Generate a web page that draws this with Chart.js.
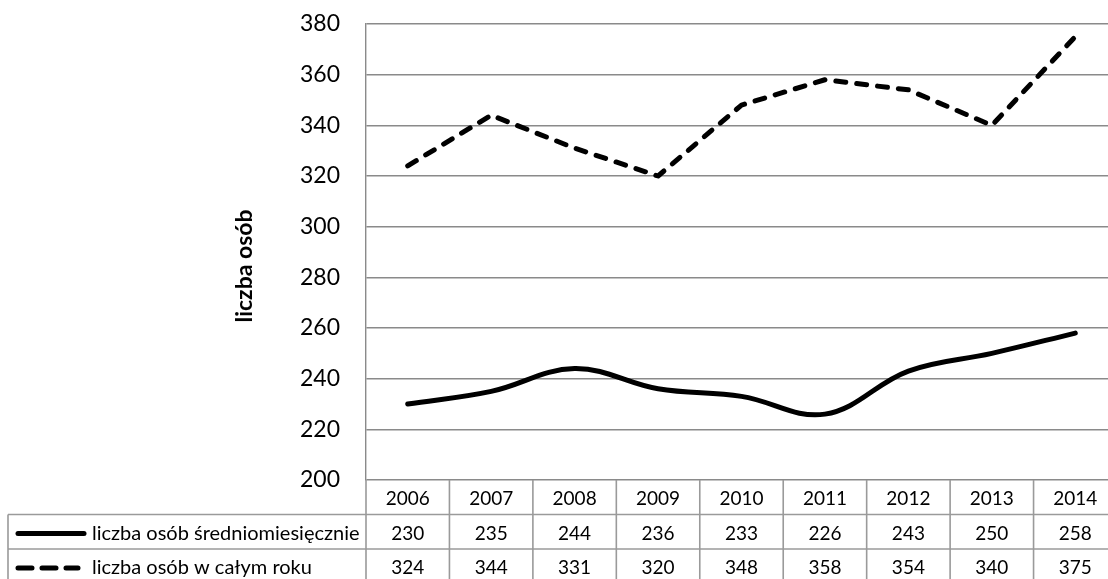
<!DOCTYPE html>
<html>
<head>
<meta charset="utf-8">
<script src="https://cdn.jsdelivr.net/npm/chart.js@4.4.0/dist/chart.umd.min.js"></script>
<style>
  html, body { margin: 0; padding: 0; background: #fff; overflow: hidden; }
  #wrap { width: 1117px; height: 579px; position: relative; }
</style>
</head>
<body>
<div id="wrap"><canvas id="c"></canvas></div>
<script>
const years = ['2006', '2007', '2008', '2009', '2010', '2011', '2012', '2013', '2014'];
const monthlyAvg = [230, 235, 244, 236, 233, 226, 243, 250, 258];
const wholeYear = [324, 344, 331, 320, 348, 358, 354, 340, 375];
const seriesNames = ['liczba osób średniomiesięcznie', 'liczba osób w całym roku'];
const yAxisTitle = 'liczba osób';
const yMin = 200, yMax = 380, yStep = 20;

const FONT = "Lato, 'Open Sans', sans-serif";
const GRID = '#8a8a8a';
const TABLE = '#9a9a9a';

const tablePlugin = {
  id: 'dataTable',
  afterDraw(chart) {
    const ctx = chart.ctx;
    const x = chart.scales.x;
    const area = chart.chartArea;
    const colW = x.getPixelForValue(1) - x.getPixelForValue(0);
    const top = area.bottom;
    const rowH = 34.5;
    const r1 = top + rowH, r2 = top + 2 * rowH, r3 = top + 3 * rowH + 2;
    const tableLeft = 8;
    ctx.save();
    ctx.strokeStyle = TABLE;
    ctx.lineWidth = 1.6;
    ctx.beginPath();
    ctx.moveTo(tableLeft, r1); ctx.lineTo(area.right, r1);
    ctx.moveTo(tableLeft, r2); ctx.lineTo(area.right, r2);
    ctx.moveTo(tableLeft, r1); ctx.lineTo(tableLeft, r3);
    for (let i = 0; i <= years.length; i++) {
      const px = x.getPixelForValue(0) - colW / 2 + i * colW;
      ctx.moveTo(px, top); ctx.lineTo(px, r3);
    }
    ctx.stroke();

    ctx.fillStyle = '#000';
    ctx.font = '19px ' + FONT;
    ctx.textAlign = 'center';
    ctx.textBaseline = 'middle';
    const rows = [years, monthlyAvg, wholeYear];
    const ys = [top + 19, r1 + 19, r2 + 19];
    rows.forEach((row, ri) => {
      row.forEach((v, i) => {
        ctx.fillText(String(v), x.getPixelForValue(i), ys[ri]);
      });
    });

    ctx.strokeStyle = '#000';
    ctx.lineWidth = 5;
    ctx.lineCap = 'round';
    ctx.beginPath();
    ctx.moveTo(18, ys[1]); ctx.lineTo(84, ys[1]);
    ctx.stroke();
    ctx.setLineDash([14, 10]);
    ctx.beginPath();
    ctx.moveTo(18, ys[2]); ctx.lineTo(78, ys[2]);
    ctx.stroke();
    ctx.setLineDash([]);
    ctx.font = '20px ' + FONT;
    ctx.textAlign = 'left';
    ctx.fillText(seriesNames[0], 92, ys[1]);
    ctx.fillText(seriesNames[1], 92, ys[2]);

    ctx.font = 'bold 23px ' + FONT;
    ctx.translate(245, 266);
    ctx.rotate(-Math.PI / 2);
    ctx.textAlign = 'center';
    ctx.fillText(yAxisTitle, 0, 0);
    ctx.restore();
  }
};

new Chart(document.getElementById('c'), {
  type: 'line',
  data: {
    labels: years,
    datasets: [
      {
        label: seriesNames[0],
        data: monthlyAvg,
        borderColor: '#000',
        borderWidth: 5,
        tension: 0.38,
        pointRadius: 0,
        borderCapStyle: 'round',
        borderJoinStyle: 'round',
        fill: false
      },
      {
        label: seriesNames[1],
        data: wholeYear,
        borderColor: '#000',
        borderWidth: 5,
        tension: 0,
        pointRadius: 0,
        borderDash: [10, 11],
        borderCapStyle: 'round',
        borderJoinStyle: 'round',
        fill: false
      }
    ]
  },
  options: {
    responsive: true,
    maintainAspectRatio: false,
    animation: false,
    layout: { autoPadding: false, padding: { top: 24, bottom: 99, left: 0, right: 0 } },
    plugins: { legend: { display: false }, tooltip: { enabled: false }, title: { display: false } },
    scales: {
      x: { display: false, offset: true },
      y: {
        min: yMin, max: yMax,
        ticks: { stepSize: yStep, color: '#000', font: { family: FONT, size: 23 }, padding: 26 },
        grid: { color: GRID, lineWidth: 1.4, drawTicks: false },
        border: { display: true, color: GRID, width: 1.4 },
        afterFit(scale) { scale.width = 366; scale.paddingTop = 0; scale.paddingBottom = 0; }
      }
    }
  },
  plugins: [tablePlugin]
});
</script>
</body>
</html>
